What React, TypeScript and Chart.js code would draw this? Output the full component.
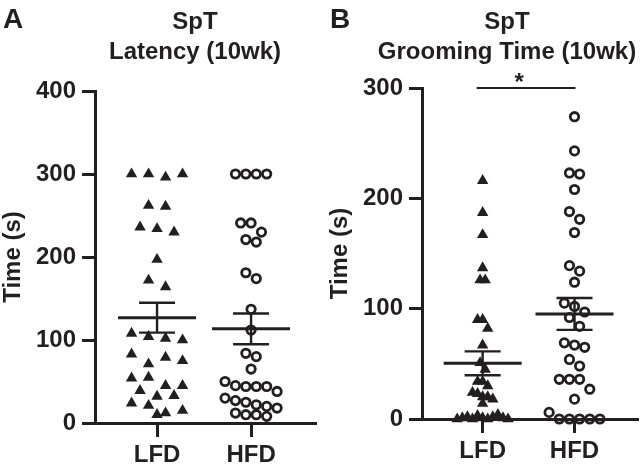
import React, { useEffect, useRef } from "react";
import { Chart, registerables } from "chart.js";

Chart.register(...registerables);

// ---------- data ----------
const categories = ["LFD", "HFD"];

// Panel A: SpT latency (10wk), seconds
const latencyLFD = [300, 300, 296, 300, 262, 261, 236, 234, 230, 197, 172, 164, 108, 104, 102, 100, 83, 71, 79, 75, 54, 55, 39, 45, 45, 32, 33, 24, 21, 12, 15, 10];
const latencyHFD = [300, 300, 300, 300, 241, 241, 230, 221, 218, 181, 174, 137, 112, 84, 80, 65, 50, 45, 44, 44, 44, 38, 30, 27, 25, 22, 20, 18, 12, 10, 10, 8];

// Panel B: SpT grooming time (10wk), seconds
const groomingLFD = [216, 187, 167, 137, 126, 126, 90, 90, 82, 67, 51, 45, 34, 34, 30, 24, 23, 20, 20, 18, 14, 0, 1, 2, 0, 3, 1, 0, 2, 4, 1, 0];
const groomingHFD = [274, 243, 223, 222, 208, 188, 181, 169, 139, 134, 124, 105, 102, 97, 92, 84, 69, 67, 65, 54, 48, 36, 36, 36, 27, 18, 6, 0, 0, 0, 0, 0];

const latencyTicks = [0, 100, 200, 300, 400];
const groomingTicks = [0, 100, 200, 300];

// ---------- style ----------
const FONT = '"Liberation Sans", Arial, Helvetica, sans-serif';
const INK = "#231f20";
const X_MIN = 0.34;
const X_MAX = 2.68;
const PLOT_W = 220;
const CANVAS_H = 473;

function meanSem(v: number[]) {
  const n = v.length;
  const m = v.reduce((a, b) => a + b, 0) / n;
  const sd = Math.sqrt(v.reduce((a, b) => a + (b - m) * (b - m), 0) / (n - 1));
  return { m, sem: sd / Math.sqrt(n) };
}

// row-based centred scatter layout (returns horizontal offsets in px)
function swarm(values: number[], tol: number, slotMax: number, span: number): number[] {
  const idx = values.map((_, i) => i).sort((a, b) => values[b] - values[a]);
  const rows: number[][] = [];
  let cur: number[] = [];
  let start = Infinity;
  for (const i of idx) {
    if (cur.length && start - values[i] > tol) {
      rows.push(cur);
      cur = [];
    }
    if (!cur.length) start = values[i];
    cur.push(i);
  }
  if (cur.length) rows.push(cur);
  const maxRow = Math.max(...rows.map((r) => r.length));
  const slot = maxRow > 1 ? Math.min(slotMax, span / (maxRow - 1)) : slotMax;
  const off = new Array(values.length).fill(0);
  rows.forEach((r) => {
    const s = [...r].sort((a, b) => a - b);
    s.forEach((i, k) => {
      off[i] = (k - (r.length - 1) / 2) * slot;
    });
  });
  return off;
}

type PanelProps = {
  letter: string;
  title: string[];
  titleX: number;
  groups: number[][];
  ticks: number[];
  top: number;
  bottom: number;
  left: number;
  width: number;
  sig: boolean;
};

function Panel(p: PanelProps) {
  const ref = useRef<HTMLCanvasElement | null>(null);
  useEffect(() => {
    if (!ref.current) return;
    const yMax = p.ticks[p.ticks.length - 1];
    const plotH = p.bottom - p.top;
    const pxPerX = PLOT_W / (X_MAX - X_MIN);
    const tolVal = 10 / (plotH / yMax);
    const styles = [
      { pointStyle: "triangle", pointRadius: 6.6, backgroundColor: INK, borderColor: INK, borderWidth: 0 },
      { pointStyle: "circle", pointRadius: 4.2, backgroundColor: "rgba(0,0,0,0)", borderColor: INK, borderWidth: 2.8 },
    ];
    const datasets = p.groups.map((vals, g) => {
      const off = swarm(vals, tolVal, 17, 52);
      return {
        label: categories[g],
        data: vals.map((v, i) => ({ x: g + 1 + off[i] / pxPerX, y: v })),
        clip: false as any,
        ...styles[g],
      };
    });

    const deco = {
      id: "deco",
      afterDatasetsDraw(chart: any) {
        const ctx = chart.ctx;
        const xs = chart.scales.x;
        const ys = chart.scales.y;
        ctx.save();
        ctx.strokeStyle = INK;
        p.groups.forEach((vals, g) => {
          const { m, sem } = meanSem(vals);
          const cx = xs.getPixelForValue(g + 1);
          const ym = ys.getPixelForValue(m);
          const yu = ys.getPixelForValue(m + sem);
          const yl = ys.getPixelForValue(m - sem);
          ctx.lineWidth = 3;
          ctx.beginPath();
          ctx.moveTo(cx - 39, ym);
          ctx.lineTo(cx + 39, ym);
          ctx.stroke();
          ctx.lineWidth = 2.4;
          ctx.beginPath();
          ctx.moveTo(cx, yu);
          ctx.lineTo(cx, yl);
          ctx.moveTo(cx - 18, yu);
          ctx.lineTo(cx + 18, yu);
          ctx.moveTo(cx - 18, yl);
          ctx.lineTo(cx + 18, yl);
          ctx.stroke();
        });
        ctx.restore();
      },
      afterDraw(chart: any) {
        const ctx = chart.ctx;
        ctx.save();
        ctx.fillStyle = INK;
        ctx.textAlign = "left";
        ctx.textBaseline = "alphabetic";
        ctx.font = `bold 28px ${FONT}`;
        ctx.fillText(p.letter, 3, 28);
        ctx.textAlign = "center";
        ctx.font = `bold 24px ${FONT}`;
        ctx.fillText(p.title[0], p.titleX, 29);
        ctx.fillText(p.title[1], p.titleX, 59);
        if (p.sig) {
          const xs = chart.scales.x;
          const ys = chart.scales.y;
          const x1 = xs.getPixelForValue(1) - 6;
          const x2 = xs.getPixelForValue(2) + 1;
          const yb = ys.getPixelForValue(yMax);
          ctx.strokeStyle = INK;
          ctx.lineWidth = 2;
          ctx.beginPath();
          ctx.moveTo(x1, yb);
          ctx.lineTo(x2, yb);
          ctx.stroke();
          ctx.font = `bold 24px ${FONT}`;
          ctx.fillText("*", (x1 + x2) / 2 - 7, 90);
        }
        ctx.restore();
      },
    };

    const chart = new Chart(ref.current, {
      type: "scatter",
      data: { datasets: datasets as any },
      plugins: [deco],
      options: {
        responsive: false,
        animation: false,
        events: [],
        layout: { padding: { left: 0, top: p.top, right: p.width - 95 - PLOT_W, bottom: 0 } },
        plugins: { legend: { display: false }, tooltip: { enabled: false }, title: { display: false } },
        scales: {
          x: {
            type: "linear",
            min: X_MIN,
            max: X_MAX,
            afterBuildTicks: (axis: any) => {
              axis.ticks = categories.map((_, i) => ({ value: i + 1 }));
            },
            afterFit: (s: any) => {
              s.height = CANVAS_H - p.bottom;
            },
            ticks: {
              autoSkip: false,
              maxRotation: 0,
              padding: 4,
              color: INK,
              font: { family: FONT, size: 24, weight: "bold" },
              callback: (v: any) => categories[Math.round(Number(v)) - 1] ?? "",
            },
            grid: { drawOnChartArea: false, drawTicks: true, tickLength: 14, lineWidth: 3, color: INK },
            border: { display: true, width: 3, color: INK },
          },
          y: {
            type: "linear",
            min: 0,
            max: yMax,
            afterBuildTicks: (axis: any) => {
              axis.ticks = p.ticks.map((v) => ({ value: v }));
            },
            afterFit: (s: any) => {
              s.width = 95;
            },
            ticks: {
              padding: 6,
              color: INK,
              font: { family: FONT, size: 24, weight: "bold" },
            },
            grid: { drawOnChartArea: false, drawTicks: true, tickLength: 13, lineWidth: 3, color: INK },
            border: { display: true, width: 3, color: INK },
            title: {
              display: true,
              text: "Time (s)",
              color: INK,
              padding: { top: 0, bottom: 0 },
              font: { family: FONT, size: 24, weight: "bold", lineHeight: 1.15 },
            },
          },
        },
      } as any,
    });
    return () => chart.destroy();
  }, []);
  return (
    <canvas
      ref={ref}
      width={p.width}
      height={CANVAS_H}
      style={{ position: "absolute", left: p.left, top: 0, width: p.width, height: CANVAS_H }}
    />
  );
}

export default function App() {
  return (
    <div style={{ position: "absolute", left: 0, top: 0, width: 644, height: 473, overflow: "hidden", background: "#ffffff" }}>
      <Panel
        letter="A"
        title={["SpT", "Latency (10wk)"]}
        titleX={195}
        groups={[latencyLFD, latencyHFD]}
        ticks={latencyTicks}
        top={91}
        bottom={423}
        left={0}
        width={322}
        sig={false}
      />
      <Panel
        letter="B"
        title={["SpT", "Grooming Time (10wk)"]}
        titleX={180}
        groups={[groomingLFD, groomingHFD]}
        ticks={groomingTicks}
        top={88}
        bottom={419}
        left={327}
        width={317}
        sig={true}
      />
    </div>
  );
}
